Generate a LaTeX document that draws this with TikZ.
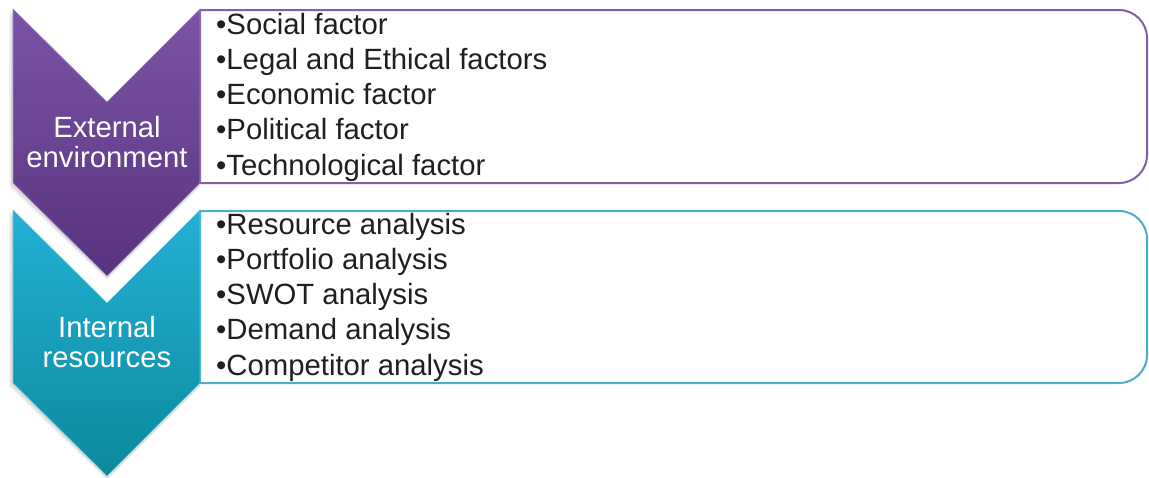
\documentclass[tikz,border=0pt]{standalone}
\usepackage{fontspec}
\setmainfont{Liberation Sans}
\begin{document}
\begin{tikzpicture}[x=1pt,y=-1pt,
  item/.style={anchor=base west,inner sep=0pt,font=\fontsize{29.3}{30}\selectfont,text=black!88},
  chevtext/.style={anchor=base,inner sep=0pt,font=\fontsize{29.3}{30}\selectfont,text=white},
  purplechev/.style={top color=purpleTop,bottom color=purpleBot,draw=purpleTop!70!white,line width=0.6pt},
  tealchev/.style={top color=tealTop,bottom color=tealBot,draw=tealTop!70!white,line width=0.6pt},
  listbox/.style={fill=white,line width=2pt,line join=round}]
\definecolor{purpleTop}{HTML}{7C53A6}
\definecolor{purpleBot}{HTML}{58337E}
\definecolor{tealTop}{HTML}{22B1D6}
\definecolor{tealBot}{HTML}{0D899B}
\definecolor{purpleLine}{HTML}{7F5FA8}
\definecolor{tealLine}{HTML}{4BADC8}
\useasboundingbox (0,0) rectangle (1149,477);

% soft shadows under the chevrons
\foreach \d/\o in {4/0.04,3/0.05,2/0.06}{
  \fill[black,opacity=\o] (13-\d,9+\d) -- (107,102+\d) -- (200,9+\d) -- (200,183+\d) -- (107,276+\d) -- (13-\d,183+\d) -- cycle;
  \fill[black,opacity=\o] (13-\d,210+\d) -- (107,303+\d) -- (200,210+\d) -- (200,383+\d) -- (107,476+\d) -- (13-\d,383+\d) -- cycle;
}

% list boxes, square on the left and rounded on the right
\draw[listbox,draw=purpleLine] (200,10) -- (1119,10) .. controls (1134.5,10) and (1147,22.5) .. (1147,38)
  -- (1147,155) .. controls (1147,170.5) and (1134.5,183) .. (1119,183) -- (200,183) -- cycle;
\draw[listbox,draw=tealLine] (200,211) -- (1119,211) .. controls (1134.5,211) and (1147,223.5) .. (1147,239)
  -- (1147,355) .. controls (1147,370.5) and (1134.5,383) .. (1119,383) -- (200,383) -- cycle;

% chevrons
\path[purplechev] (13,9) -- (107,102) -- (200,9) -- (200,183) -- (107,276) -- (13,183) -- cycle;
\path[tealchev] (13,210) -- (107,303) -- (200,210) -- (200,383) -- (107,476) -- (13,383) -- cycle;

% chevron labels
\node[chevtext] (ext1) at (107,137) {External};
\node[chevtext] (ext2) at (107,167) {environment};
\node[chevtext] (int1) at (107,337) {Internal};
\node[chevtext] (int2) at (107,367) {resources};

% external factors
\node[item] (a1) at (216,34) {•Social factor};
\node[item] (a2) at (216,69.25) {•Legal and Ethical factors};
\node[item] (a3) at (216,104.5) {•Economic factor};
\node[item] (a4) at (216,139.75) {•Political factor};
\node[item] (a5) at (216,175) {•Technological factor};

% internal analyses
\node[item] (b1) at (216,234) {•Resource analysis};
\node[item] (b2) at (216,269.25) {•Portfolio analysis};
\node[item] (b3) at (216,304.5) {•SWOT analysis};
\node[item] (b4) at (216,339.75) {•Demand analysis};
\node[item] (b5) at (216,375) {•Competitor analysis};
\end{tikzpicture}
\end{document}
